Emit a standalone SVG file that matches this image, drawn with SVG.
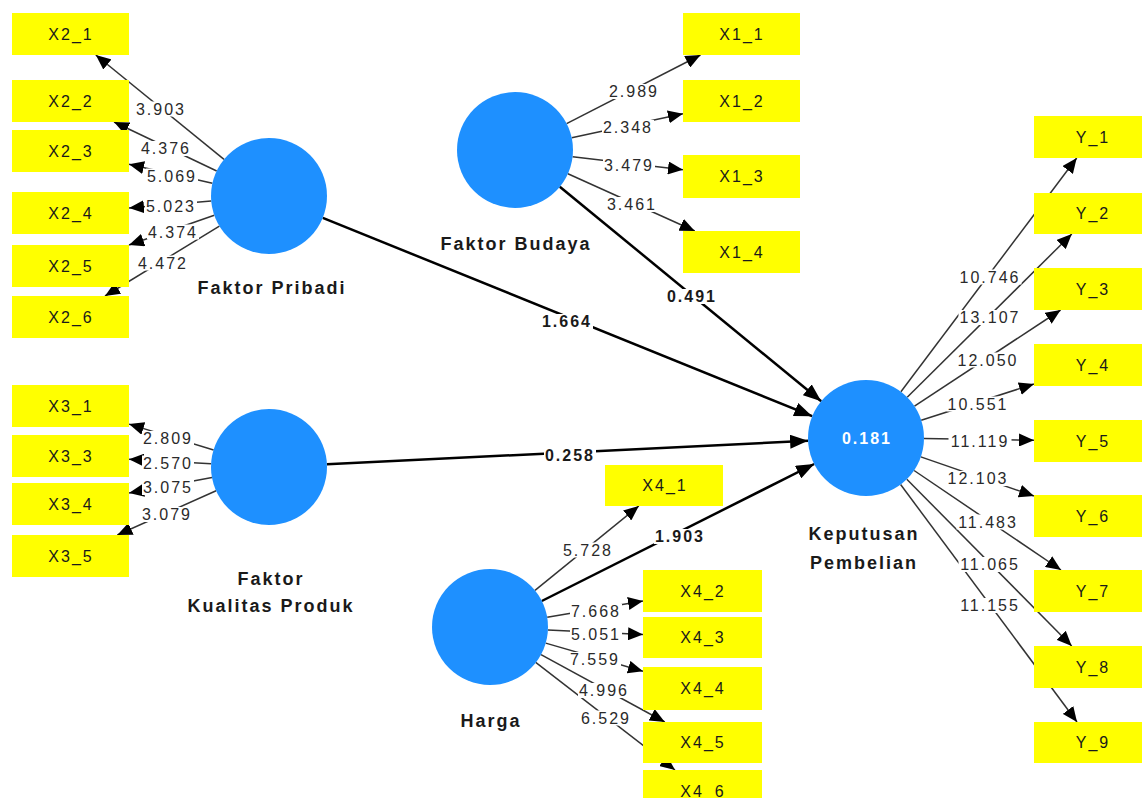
<svg xmlns="http://www.w3.org/2000/svg" width="1142" height="798" viewBox="0 0 1142 798">
<defs>
<style>
.box{fill:#FFFF00}
.lv{fill:#1E90FF}
.bg{fill:#fff}
.ind{font-family:"Liberation Sans",Arial,sans-serif;font-size:16px;letter-spacing:2px;fill:#1a1a1a;text-anchor:middle}
.w{font-family:"Liberation Sans",Arial,sans-serif;font-size:16px;letter-spacing:2px;fill:#2a2a2a;text-anchor:middle}
.pw{font-family:"Liberation Sans",Arial,sans-serif;font-size:16px;font-weight:bold;letter-spacing:2px;fill:#1a1a1a;text-anchor:middle}
.name{font-family:"Liberation Sans",Arial,sans-serif;font-size:18px;font-weight:bold;letter-spacing:2px;fill:#1a1a1a;text-anchor:middle}
.r2{font-family:"Liberation Sans",Arial,sans-serif;font-size:16px;font-weight:bold;letter-spacing:2px;fill:#fff;text-anchor:middle}
.ol{stroke:#333;stroke-width:1.5;fill:none;marker-end:url(#a)}
.pl{stroke:#000;stroke-width:2.5;fill:none;marker-end:url(#b)}
</style>
<marker id="a" markerUnits="userSpaceOnUse" markerWidth="15" markerHeight="13" refX="15" refY="6.5" orient="auto"><path d="M0,0 L15,6.5 L0,13 z" fill="#000"/></marker>
<marker id="b" markerUnits="userSpaceOnUse" markerWidth="18" markerHeight="14" refX="18" refY="7" orient="auto"><path d="M0,0 L18,7 L0,14 z" fill="#000"/></marker>
</defs>
<rect width="1142" height="798" fill="#fff"/>

<g id="connectors">
<line class="ol" x1="224" y1="159.4" x2="95.8" y2="55"/>
<line class="ol" x1="216.7" y1="171" x2="114" y2="122"/>
<line class="ol" x1="212.4" y1="183.2" x2="129" y2="164.3"/>
<line class="ol" x1="211.2" y1="200.9" x2="129" y2="208"/>
<line class="ol" x1="214.3" y1="215.2" x2="129" y2="245"/>
<line class="ol" x1="219.4" y1="226.1" x2="105" y2="296"/>
<line class="ol" x1="566.6" y1="123.6" x2="700.5" y2="55"/>
<line class="ol" x1="571.7" y1="137.7" x2="683" y2="113.7"/>
<line class="ol" x1="572.6" y1="156.7" x2="683" y2="169.7"/>
<line class="ol" x1="567.9" y1="173.8" x2="694.8" y2="231"/>
<line class="ol" x1="900.9" y1="391.7" x2="1076.7" y2="158"/>
<line class="ol" x1="907.2" y1="397.2" x2="1071.8" y2="234"/>
<line class="ol" x1="914.5" y1="406.1" x2="1060.6" y2="310"/>
<line class="ol" x1="921.2" y1="420.2" x2="1034" y2="384"/>
<line class="ol" x1="924" y1="438.6" x2="1034" y2="440.2"/>
<line class="ol" x1="920.8" y1="456.9" x2="1034" y2="496"/>
<line class="ol" x1="914.1" y1="470.5" x2="1061" y2="570"/>
<line class="ol" x1="906.8" y1="479.2" x2="1071.7" y2="646"/>
<line class="ol" x1="900.6" y1="484.5" x2="1077" y2="722"/>
<line class="ol" x1="535" y1="590.4" x2="638.8" y2="506"/>
<line class="ol" x1="547.2" y1="617.3" x2="643" y2="601"/>
<line class="ol" x1="547.9" y1="629.9" x2="643" y2="634.6"/>
<line class="ol" x1="545.7" y1="643.1" x2="643" y2="671.3"/>
<line class="ol" x1="541" y1="654.7" x2="664.8" y2="722"/>
<line class="ol" x1="535.7" y1="662.3" x2="675" y2="770"/>
<line class="ol" x1="213.6" y1="450" x2="129" y2="424.1"/>
<line class="ol" x1="211.1" y1="463.8" x2="129" y2="459.2"/>
<line class="ol" x1="212" y1="477.6" x2="129" y2="493.1"/>
<line class="ol" x1="216.1" y1="490.7" x2="117.3" y2="535"/>
<line class="pl" x1="322.8" y1="217.8" x2="812.2" y2="416.2"/>
<line class="pl" x1="559.8" y1="186.8" x2="821.2" y2="401.2"/>
<line class="pl" x1="326.9" y1="464.2" x2="808.1" y2="440.8"/>
<line class="pl" x1="541.8" y1="601" x2="814.2" y2="464"/>
</g>

<g id="connector-labels">
<rect class="bg" x="135" y="101.5" width="52" height="15"/><text class="w" x="161" y="114.5">3.903</text>
<rect class="bg" x="140" y="141" width="52" height="15"/><text class="w" x="166" y="154">4.376</text>
<rect class="bg" x="146" y="168.5" width="52" height="15"/><text class="w" x="172" y="181.5">5.069</text>
<rect class="bg" x="145" y="199" width="52" height="15"/><text class="w" x="171" y="212">5.023</text>
<rect class="bg" x="147" y="224.5" width="52" height="15"/><text class="w" x="173" y="237.5">4.374</text>
<rect class="bg" x="137" y="255.5" width="52" height="15"/><text class="w" x="163" y="268.5">4.472</text>
<rect class="bg" x="608" y="84" width="52" height="15"/><text class="w" x="634" y="97">2.989</text>
<rect class="bg" x="602" y="120" width="52" height="15"/><text class="w" x="628" y="133">2.348</text>
<rect class="bg" x="603" y="158" width="52" height="15"/><text class="w" x="629" y="171">3.479</text>
<rect class="bg" x="606" y="197" width="52" height="15"/><text class="w" x="632" y="210">3.461</text>
<rect class="bg" x="958.5" y="269.5" width="63" height="15"/><text class="w" x="990" y="282.5">10.746</text>
<rect class="bg" x="958.5" y="310" width="63" height="15"/><text class="w" x="990" y="323">13.107</text>
<rect class="bg" x="956.5" y="352.5" width="63" height="15"/><text class="w" x="988" y="365.5">12.050</text>
<rect class="bg" x="946.5" y="396.5" width="63" height="15"/><text class="w" x="978" y="409.5">10.551</text>
<rect class="bg" x="948.5" y="434" width="63" height="15"/><text class="w" x="980" y="447">11.119</text>
<rect class="bg" x="946.5" y="471" width="63" height="15"/><text class="w" x="978" y="484">12.103</text>
<rect class="bg" x="956.5" y="514.5" width="63" height="15"/><text class="w" x="988" y="527.5">11.483</text>
<rect class="bg" x="958.5" y="557" width="63" height="15"/><text class="w" x="990" y="570">11.065</text>
<rect class="bg" x="958.5" y="598" width="63" height="15"/><text class="w" x="990" y="611">11.155</text>
<rect class="bg" x="562" y="542.5" width="52" height="15"/><text class="w" x="588" y="555.5">5.728</text>
<rect class="bg" x="570" y="604" width="52" height="15"/><text class="w" x="596" y="617">7.668</text>
<rect class="bg" x="570" y="626.5" width="52" height="15"/><text class="w" x="596" y="639.5">5.051</text>
<rect class="bg" x="569" y="652" width="52" height="15"/><text class="w" x="595" y="665">7.559</text>
<rect class="bg" x="578" y="683" width="52" height="15"/><text class="w" x="604" y="696">4.996</text>
<rect class="bg" x="580" y="710.5" width="52" height="15"/><text class="w" x="606" y="723.5">6.529</text>
<rect class="bg" x="142" y="431" width="52" height="15"/><text class="w" x="168" y="444">2.809</text>
<rect class="bg" x="142" y="455.5" width="52" height="15"/><text class="w" x="168" y="468.5">2.570</text>
<rect class="bg" x="142" y="480" width="52" height="15"/><text class="w" x="168" y="493">3.075</text>
<rect class="bg" x="141" y="507" width="52" height="15"/><text class="w" x="167" y="520">3.079</text>
<rect class="bg" x="541" y="314" width="52" height="15"/><text class="pw" x="567" y="327">1.664</text>
<rect class="bg" x="666" y="289" width="52" height="15"/><text class="pw" x="692" y="302">0.491</text>
<rect class="bg" x="544" y="448" width="52" height="15"/><text class="pw" x="570" y="461">0.258</text>
<rect class="bg" x="654" y="529" width="52" height="15"/><text class="pw" x="680" y="542">1.903</text>
</g>

<g id="faktor-pribadi">
<circle class="lv" cx="269" cy="196" r="58"/>
<text class="name" x="272" y="294">Faktor Pribadi</text>
</g>
<g id="faktor-budaya">
<circle class="lv" cx="515" cy="150" r="58"/>
<text class="name" x="516" y="250">Faktor Budaya</text>
</g>
<g id="faktor-kualitas-produk">
<circle class="lv" cx="269" cy="467" r="58"/>
<text class="name" x="271" y="585">Faktor</text>
<text class="name" x="271" y="612">Kualitas Produk</text>
</g>
<g id="harga">
<circle class="lv" cx="490" cy="627" r="58"/>
<text class="name" x="491" y="727">Harga</text>
</g>
<g id="keputusan-pembelian">
<circle class="lv" cx="866" cy="438" r="58"/>
<text class="r2" x="867" y="444">0.181</text>
<text class="name" x="864" y="540">Keputusan</text>
<text class="name" x="864" y="569">Pembelian</text>
</g>

<g id="X2_1"><rect class="box" x="12" y="13" width="117" height="42"/><text class="ind" x="71" y="40">X2_1</text></g>
<g id="X2_2"><rect class="box" x="12" y="80" width="117" height="42"/><text class="ind" x="71" y="107">X2_2</text></g>
<g id="X2_3"><rect class="box" x="12" y="130" width="117" height="42"/><text class="ind" x="71" y="157">X2_3</text></g>
<g id="X2_4"><rect class="box" x="12" y="192" width="117" height="42"/><text class="ind" x="71" y="219">X2_4</text></g>
<g id="X2_5"><rect class="box" x="12" y="245" width="117" height="42"/><text class="ind" x="71" y="272">X2_5</text></g>
<g id="X2_6"><rect class="box" x="12" y="296" width="117" height="42"/><text class="ind" x="71" y="323">X2_6</text></g>

<g id="X1_1"><rect class="box" x="683" y="13" width="117" height="42"/><text class="ind" x="742" y="40">X1_1</text></g>
<g id="X1_2"><rect class="box" x="683" y="80" width="117" height="42"/><text class="ind" x="742" y="107">X1_2</text></g>
<g id="X1_3"><rect class="box" x="683" y="155" width="117" height="43"/><text class="ind" x="742" y="182">X1_3</text></g>
<g id="X1_4"><rect class="box" x="683" y="231" width="117" height="42"/><text class="ind" x="742" y="258">X1_4</text></g>

<g id="X3_1"><rect class="box" x="12" y="385" width="117" height="42"/><text class="ind" x="71" y="412">X3_1</text></g>
<g id="X3_3"><rect class="box" x="12" y="435" width="117" height="42"/><text class="ind" x="71" y="462">X3_3</text></g>
<g id="X3_4"><rect class="box" x="12" y="483" width="117" height="42"/><text class="ind" x="71" y="510">X3_4</text></g>
<g id="X3_5"><rect class="box" x="12" y="535" width="117" height="42"/><text class="ind" x="71" y="562">X3_5</text></g>

<g id="X4_1"><rect class="box" x="605" y="465" width="118" height="41"/><text class="ind" x="665" y="491">X4_1</text></g>
<g id="X4_2"><rect class="box" x="643" y="570" width="119" height="42"/><text class="ind" x="703" y="597">X4_2</text></g>
<g id="X4_3"><rect class="box" x="643" y="617" width="119" height="41"/><text class="ind" x="703" y="643">X4_3</text></g>
<g id="X4_4"><rect class="box" x="643" y="667" width="119" height="43"/><text class="ind" x="703" y="694">X4_4</text></g>
<g id="X4_5"><rect class="box" x="643" y="722" width="119" height="41"/><text class="ind" x="703" y="748">X4_5</text></g>
<g id="X4_6"><rect class="box" x="643" y="770" width="119" height="42"/><text class="ind" x="703" y="797">X4_6</text></g>

<g id="Y_1"><rect class="box" x="1034" y="116" width="117" height="42"/><text class="ind" x="1093" y="143">Y_1</text></g>
<g id="Y_2"><rect class="box" x="1034" y="193" width="117" height="41"/><text class="ind" x="1093" y="219">Y_2</text></g>
<g id="Y_3"><rect class="box" x="1034" y="268" width="117" height="42"/><text class="ind" x="1093" y="295">Y_3</text></g>
<g id="Y_4"><rect class="box" x="1034" y="344" width="117" height="42"/><text class="ind" x="1093" y="371">Y_4</text></g>
<g id="Y_5"><rect class="box" x="1034" y="420" width="117" height="42"/><text class="ind" x="1093" y="447">Y_5</text></g>
<g id="Y_6"><rect class="box" x="1034" y="495" width="117" height="42"/><text class="ind" x="1093" y="522">Y_6</text></g>
<g id="Y_7"><rect class="box" x="1034" y="570" width="117" height="42"/><text class="ind" x="1093" y="597">Y_7</text></g>
<g id="Y_8"><rect class="box" x="1034" y="646" width="117" height="42"/><text class="ind" x="1093" y="673">Y_8</text></g>
<g id="Y_9"><rect class="box" x="1034" y="722" width="117" height="41"/><text class="ind" x="1093" y="748">Y_9</text></g>
</svg>
